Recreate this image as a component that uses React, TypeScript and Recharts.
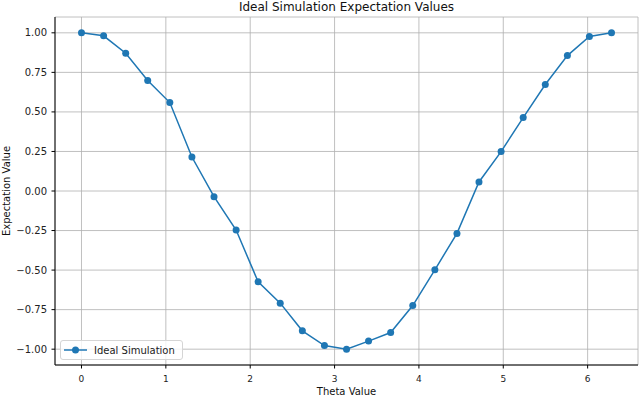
import { LineChart, Line, XAxis, YAxis, CartesianGrid, Legend } from 'recharts'

const thetaValues = [
  0, 0.262, 0.524, 0.785, 1.047, 1.309, 1.571, 1.833, 2.094, 2.356, 2.618, 2.88, 3.142,
  3.403, 3.665, 3.927, 4.189, 4.451, 4.712, 4.974, 5.236, 5.498, 5.76, 6.021, 6.283,
]
const expectationValues = [
  1.0, 0.981, 0.871, 0.698, 0.559, 0.215, -0.036, -0.247, -0.574, -0.709, -0.884, -0.977, -1.0,
  -0.949, -0.895, -0.724, -0.498, -0.268, 0.057, 0.249, 0.464, 0.673, 0.856, 0.977, 1.0,
]
const xTicks = [0, 1, 2, 3, 4, 5, 6]
const yTicks = [-1, -0.75, -0.5, -0.25, 0, 0.25, 0.5, 0.75, 1]

const data = thetaValues.map((theta, i) => ({ theta, value: expectationValues[i] }))

const font = '"DejaVu Sans", sans-serif'
const blue = '#1f77b4'
const fmtY = (v: number) => v.toFixed(2).replace('-', '\u2212')

function LegendBox() {
  return (
    <div
      style={{
        boxSizing: 'border-box',
        width: 123,
        height: 20,
        border: '1px solid #d5d5d5',
        borderRadius: 3,
        background: 'rgba(255,255,255,0.8)',
        display: 'flex',
        alignItems: 'center',
        fontFamily: font,
        fontSize: 10,
        color: '#222',
      }}
    >
      <svg width={24} height={10} style={{ marginLeft: 3 }}>
        <line x1={0} y1={5} x2={23} y2={5} stroke={blue} strokeWidth={1.5} />
        <circle cx={11.5} cy={5} r={3.5} fill={blue} />
      </svg>
      <span style={{ marginLeft: 6 }}>Ideal Simulation</span>
    </div>
  )
}

export default function App() {
  return (
    <div style={{ position: 'absolute', left: 0, top: 0, width: 640, height: 396, fontFamily: font }}>
      <div
        style={{
          position: 'absolute',
          top: 0,
          left: 55,
          width: 583,
          textAlign: 'center',
          fontSize: 12,
          lineHeight: '14px',
          color: '#111',
        }}
      >
        Ideal Simulation Expectation Values
      </div>
      <LineChart width={640} height={396} data={data} margin={{ top: 17, right: 2, bottom: 0, left: 0 }}>
        <CartesianGrid stroke="#b0b0b0" strokeWidth={0.8} />
        <XAxis
          dataKey="theta"
          type="number"
          domain={[-0.314, 6.597]}
          allowDataOverflow
          ticks={xTicks}
          height={31}
          stroke="#000"
          tickSize={3.5}
          tickMargin={7}
          tick={{ fontSize: 9, fill: '#222', fontFamily: font }}
          label={{ value: 'Theta Value', position: 'insideBottom', offset: 1, style: { fontSize: 10, fill: '#111', fontFamily: font } }}
        />
        <XAxis xAxisId="top" orientation="top" dataKey="theta" type="number" domain={[-0.314, 6.597]} allowDataOverflow height={0} tick={false} tickLine={false} stroke="#000" />
        <YAxis
          type="number"
          domain={[-1.1, 1.1]}
          allowDataOverflow
          ticks={yTicks}
          width={55}
          stroke="#000"
          tickSize={3.5}
          tickMargin={4.5}
          tickFormatter={fmtY}
          tick={{ fontSize: 10, fill: '#222', fontFamily: font }}
          label={{ value: 'Expectation Value', angle: -90, position: 'insideLeft', offset: 6, style: { textAnchor: 'middle', fontSize: 10, fill: '#111', fontFamily: font } }}
        />
        <YAxis yAxisId="right" orientation="right" type="number" domain={[-1.1, 1.1]} width={0} tick={false} tickLine={false} stroke="#000" />
        <Legend
          layout="horizontal"
          align="center"
          verticalAlign="middle"
          content={() => <LegendBox />}
          wrapperStyle={{ position: 'absolute', left: 60, top: 340, width: 'auto', height: 'auto', bottom: 'auto' }}
        />
        <Line
          dataKey="value"
          name="Ideal Simulation"
          stroke={blue}
          strokeWidth={1.5}
          dot={{ r: 3.5, fill: blue, stroke: blue, strokeWidth: 0 }}
          activeDot={false}
          isAnimationActive={false}
        />
      </LineChart>
    </div>
  )
}
